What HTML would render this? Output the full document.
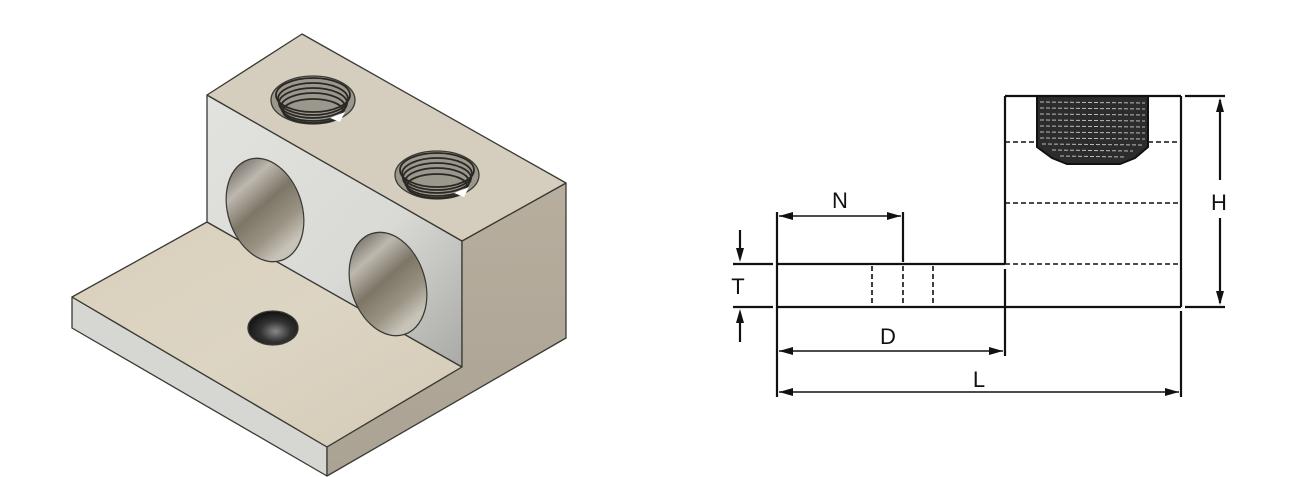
<!DOCTYPE html>
<html><head><meta charset="utf-8"><style>
html,body{margin:0;padding:0;background:#fff;}
svg{display:block;}
text{font-family:"Liberation Sans",Arial,sans-serif;font-size:22px;fill:#111;}
</style></head><body>
<svg width="1296" height="477" viewBox="0 0 1296 477" xmlns="http://www.w3.org/2000/svg">
<defs>
<linearGradient id="front" x1="0" y1="0" x2="1" y2="1">
<stop offset="0" stop-color="#e2e2de"/><stop offset="0.6" stop-color="#d9d9d5"/><stop offset="1" stop-color="#a9a9a5"/></linearGradient>
<linearGradient id="right" x1="0" y1="0" x2="0" y2="1">
<stop offset="0" stop-color="#b7ae9e"/><stop offset="1" stop-color="#aaa293"/></linearGradient>
<linearGradient id="plate" x1="0" y1="0" x2="1" y2="1">
<stop offset="0" stop-color="#d9d0bd"/><stop offset="0.5" stop-color="#ddd5c3"/><stop offset="1" stop-color="#d3cab7"/></linearGradient>
<linearGradient id="hole" x1="0" y1="0" x2="0.3" y2="1">
<stop offset="0" stop-color="#5e5850"/><stop offset="0.3" stop-color="#bdb8b0"/><stop offset="0.55" stop-color="#7d7566"/><stop offset="0.8" stop-color="#9a9384"/><stop offset="1" stop-color="#c8c3b9"/></linearGradient>
<radialGradient id="small" cx="0.55" cy="0.6" r="0.6">
<stop offset="0" stop-color="#888"/><stop offset="0.5" stop-color="#333"/><stop offset="1" stop-color="#111"/></radialGradient>
</defs>
<g stroke="#3a3a34" stroke-width="1.3" stroke-linejoin="round">
<polygon points="72,297 327,447 327,476 72,328" fill="#d6d6d2"/>
<polygon points="72,297 207,222 462,367 327,447" fill="url(#plate)"/>
<polygon points="207,95 462,241 462,367 207,222" fill="url(#front)"/>
<polygon points="462,241 566,183 566,338 327,476 327,447 462,367" fill="url(#right)"/>
<polygon points="302,34 566,183 462,241 207,95" fill="#d5cebf"/>
<ellipse cx="265" cy="210" rx="37" ry="53" transform="rotate(-18 265 210)" fill="url(#hole)"/>
<ellipse cx="388" cy="284" rx="37" ry="53" transform="rotate(-18 388 284)" fill="url(#hole)"/>
<ellipse cx="273" cy="328" rx="25" ry="17" fill="url(#small)"/>
<ellipse cx="313" cy="100" rx="42" ry="24" fill="#9c978c"/>
<ellipse cx="437" cy="175" rx="42" ry="24" fill="#9c978c"/>
</g>
<g fill="none" stroke="#2a2824" stroke-width="1.8">
<ellipse cx="313" cy="95" rx="37" ry="17"/><ellipse cx="313" cy="99" rx="35" ry="16"/><ellipse cx="313" cy="103" rx="34" ry="15"/><ellipse cx="313" cy="107" rx="32" ry="14"/><ellipse cx="313" cy="111" rx="30" ry="12"/>
<ellipse cx="437" cy="170" rx="37" ry="17"/><ellipse cx="437" cy="174" rx="35" ry="16"/><ellipse cx="437" cy="178" rx="34" ry="15"/><ellipse cx="437" cy="182" rx="32" ry="14"/><ellipse cx="437" cy="186" rx="30" ry="12"/>
</g>
<polygon points="330,118 345,112 340,122" fill="#fff"/>
<polygon points="454,193 469,187 464,197" fill="#fff"/>

<g stroke="#111" fill="none">
<path d="M1037,96 H1148 V147 L1135,158 L1120,164 H1067 L1052,158 L1037,147 Z" fill="#2c2c2c" stroke="#111" stroke-width="2"/>
<g stroke="#bbb" stroke-width="1" stroke-dasharray="4,2">
<line x1="1040" y1="102" x2="1145" y2="103"/><line x1="1040" y1="108" x2="1145" y2="109"/><line x1="1040" y1="114" x2="1145" y2="115"/><line x1="1040" y1="120" x2="1145" y2="121"/><line x1="1040" y1="126" x2="1145" y2="127"/><line x1="1040" y1="132" x2="1145" y2="133"/><line x1="1040" y1="138" x2="1145" y2="139"/><line x1="1042" y1="144" x2="1143" y2="145"/><line x1="1052" y1="150" x2="1133" y2="151"/><line x1="1060" y1="156" x2="1125" y2="157"/>
</g>
<g stroke-width="2.2">
<line x1="1005" y1="96" x2="1181" y2="96"/>
<line x1="1005" y1="96" x2="1005" y2="264"/>
<line x1="1181" y1="96" x2="1181" y2="307"/>
<line x1="777" y1="264" x2="1005" y2="264"/>
<line x1="777" y1="307" x2="1181" y2="307"/>
<line x1="777" y1="212" x2="777" y2="397"/>
<line x1="903" y1="212" x2="903" y2="262"/>
<line x1="1005" y1="269" x2="1005" y2="356"/>
<line x1="1181" y1="311" x2="1181" y2="397"/>
<line x1="733" y1="264" x2="773" y2="264"/>
<line x1="733" y1="307" x2="773" y2="307"/>
<line x1="1185" y1="96" x2="1225" y2="96"/>
<line x1="1185" y1="307" x2="1225" y2="307"/>
<line x1="1220" y1="100" x2="1220" y2="180"/>
<line x1="1220" y1="218" x2="1220" y2="303"/>
<line x1="740" y1="230" x2="740" y2="258"/>
<line x1="740" y1="313" x2="740" y2="342"/>
</g>
<g stroke-width="1.6" stroke-dasharray="5,3">
<line x1="1005" y1="142" x2="1037" y2="142"/><line x1="1148" y1="142" x2="1181" y2="142"/>
<line x1="1005" y1="203" x2="1181" y2="203"/>
<line x1="1005" y1="264" x2="1181" y2="264"/>
<line x1="872" y1="266" x2="872" y2="305"/>
<line x1="903" y1="266" x2="903" y2="305"/>
<line x1="933" y1="266" x2="933" y2="305"/>
</g>
<g stroke-width="1.6">
<line x1="779" y1="216" x2="901" y2="216"/>
<line x1="779" y1="351" x2="1003" y2="351"/>
<line x1="779" y1="392" x2="1179" y2="392"/>
</g>
</g>
<g fill="#111">
<polygon points="779,216 793,212 793,220"/><polygon points="901,216 887,212 887,220"/>
<polygon points="779,351 793,347 793,355"/><polygon points="1003,351 989,347 989,355"/>
<polygon points="779,392 793,388 793,396"/><polygon points="1179,392 1165,388 1165,396"/>
<polygon points="1220,98 1216,112 1224,112"/><polygon points="1220,305 1216,291 1224,291"/>
<polygon points="740,262 736,248 744,248"/><polygon points="740,309 736,323 744,323"/>
</g>
<text x="840" y="208" text-anchor="middle">N</text>
<text x="738" y="294" text-anchor="middle">T</text>
<text x="888" y="344" text-anchor="middle">D</text>
<text x="979" y="387" text-anchor="middle">L</text>
<text x="1219" y="210" text-anchor="middle">H</text>
</svg>
</body></html>
